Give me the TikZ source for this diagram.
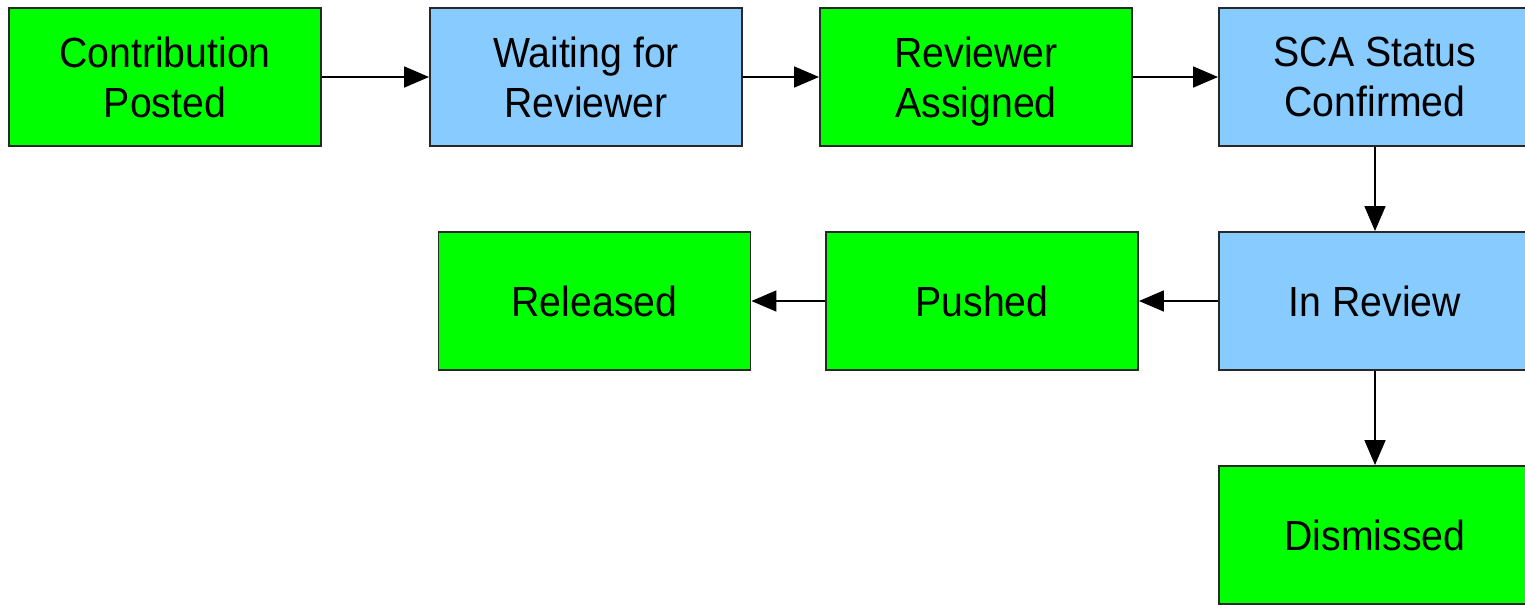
\documentclass[tikz,border=0pt]{standalone}
\usepackage{fontspec}
\setmainfont[FakeStretch=0.93]{Liberation Sans}
\usetikzlibrary{arrows.meta}

\definecolor{stategreen}{RGB}{0,255,0}
\definecolor{stateblue}{RGB}{136,204,255}
\definecolor{edgegray}{RGB}{40,40,40}

\begin{document}
\begin{tikzpicture}[
    statebox/.style={rectangle, draw=edgegray, line width=1.1pt,
      minimum width=6.24cm, minimum height=2.76cm, text depth=0pt,
      align=center, font=\fontsize{24}{28.5}\selectfont},
    donebox/.style={statebox, fill=stategreen},
    waitbox/.style={statebox, fill=stateblue},
    flow/.style={-{Triangle[length=0.5cm,width=0.42cm]}, line width=1pt}
  ]

    \useasboundingbox (0,0) rectangle (30.5,-12.08);

    % top row
    \node[donebox] (posted) at (3.3,-1.54) {Contribution\\Posted};
    \node[waitbox] (waiting) at (11.72,-1.54) {Waiting for\\Reviewer};
    \node[donebox] (assigned) at (19.52,-1.54) {Reviewer\\Assigned};
    \node[waitbox] (sca) at (27.5,-1.54) {SCA Status\\Confirmed};

    % middle row
    \node[waitbox] (review) at (27.5,-6.02) {In Review};
    \node[donebox] (pushed) at (19.64,-6.02) {Pushed};
    \node[donebox] (released) at (11.89,-6.02) {Released};

    % bottom
    \node[donebox] (dismissed) at (27.5,-10.7) {Dismissed};

    \draw[flow] (posted)--(waiting);
    \draw[flow] (waiting)--(assigned);
    \draw[flow] (assigned)--(sca);
    \draw[flow] (sca)--(review);
    \draw[flow] (review)--(pushed);
    \draw[flow] (pushed)--(released);
    \draw[flow] (review)--(dismissed);
\end{tikzpicture}
\end{document}
